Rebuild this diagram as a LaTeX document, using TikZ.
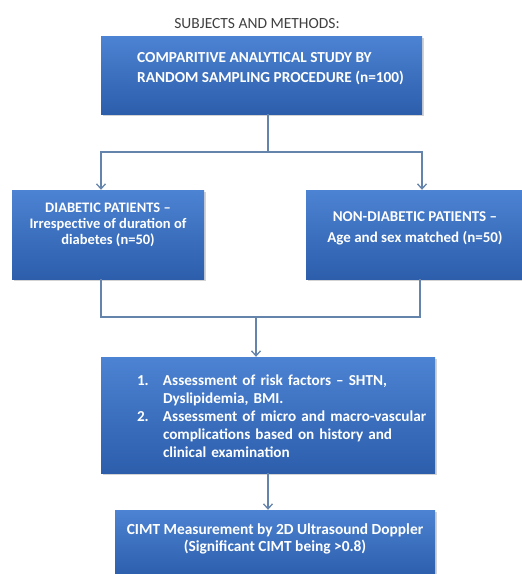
\documentclass[tikz,border=0pt]{standalone}
\usepackage{fontspec}
\setmainfont{Carlito}
\usetikzlibrary{arrows.meta,shadows}
\definecolor{boxtop}{RGB}{76,131,210}
\definecolor{boxbot}{RGB}{44,94,172}
\definecolor{lnk}{RGB}{100,132,172}
\definecolor{ttl}{RGB}{64,64,64}
\newcommand{\lift}[1]{\rule[-#1]{0pt}{0pt}}
\tikzset{
  >={Straight Barb[length=5pt,width=9pt,line width=1.3pt]},
  every node/.style={font=\bfseries\fontsize{15}{18}\selectfont},
  bx/.style={draw=none,top color=boxtop,bottom color=boxbot,text=white,
    align=center,inner sep=2pt,drop shadow={shadow xshift=1.5pt,shadow yshift=-1.5pt,opacity=0.35}},
  link/.style={draw=lnk,line width=1.6pt},
  flow/.style={link,->},
}
\begin{document}
\begin{tikzpicture}[x=1pt,y=1pt]
  \useasboundingbox (0,0) rectangle (522,-574);

  % heading
  \node[text=ttl,font=\fontsize{15.5}{17}\selectfont] (ttl) at (257,-24) {SUBJECTS AND METHODS:};

  % study box
  \node[bx,minimum width=321pt,minimum height=78pt] (stdy) at (261.5,-75) {};
  \node[text=white,align=left,anchor=north west,inner sep=0pt,font=\bfseries\fontsize{15.3}{18}\selectfont] (stdyt) at (137,-52)
    {COMPARITIVE ANALYTICAL STUDY BY\\[2pt]RANDOM SAMPLING PROCEDURE (n=100)};

  % the two groups
  \node[bx,minimum width=192pt,minimum height=89pt,font=\bfseries\fontsize{14.5}{16}\selectfont] (dm) at (108,-234.5)
    {DIABETIC PATIENTS --\\Irrespective of duration of\\diabetes (n=50)\lift{22pt}};
  \node[bx,minimum width=218pt,minimum height=89pt] (ndm) at (415,-234.5)
    {NON-DIABETIC PATIENTS --\\[3pt]Age and sex matched (n=50)\lift{14pt}};

  % assessment
  \node[bx,minimum width=334pt,minimum height=116pt,text width=330pt,align=left,
        font=\bfseries\fontsize{15.2}{18}\selectfont] (asmt) at (268,-415)
    {\begin{tabular}{@{\hspace{34pt}}p{26pt}@{}l@{}}
      1. & \rule{0pt}{18.6pt}Assessment of risk factors -- SHTN,\\
         & Dyslipidemia, BMI.\\
      2. & Assessment of micro and macro-vascular\\
         & complications based on history and\\
         & clinical examination
    \end{tabular}};

  % measurement
  \node[bx,minimum width=320pt,minimum height=66pt,font=\bfseries\fontsize{15.4}{17}\selectfont] (cimt) at (275,-543)
    {CIMT Measurement by 2D Ultrasound Doppler\\(Significant CIMT being >0.8)\lift{11pt}};

  % split
  \coordinate (sp) at (268,-152);
  \draw[link] (stdy.south -| sp) -- (sp);
  \draw[flow] (sp) -| (dm.north -| 101,0);
  \draw[flow] (sp) -| (ndm.north -| 422,0);

  % merge
  \coordinate (mg) at (256,-317);
  \draw[link] (dm.south -| 101,0) |- (mg);
  \draw[link] (ndm.south -| 420,0) |- (mg);
  \draw[flow] (mg) -- (asmt.north -| mg);

  \draw[flow] (asmt.south -| 268,0) -- (cimt.north -| 268,0);
\end{tikzpicture}
\end{document}
